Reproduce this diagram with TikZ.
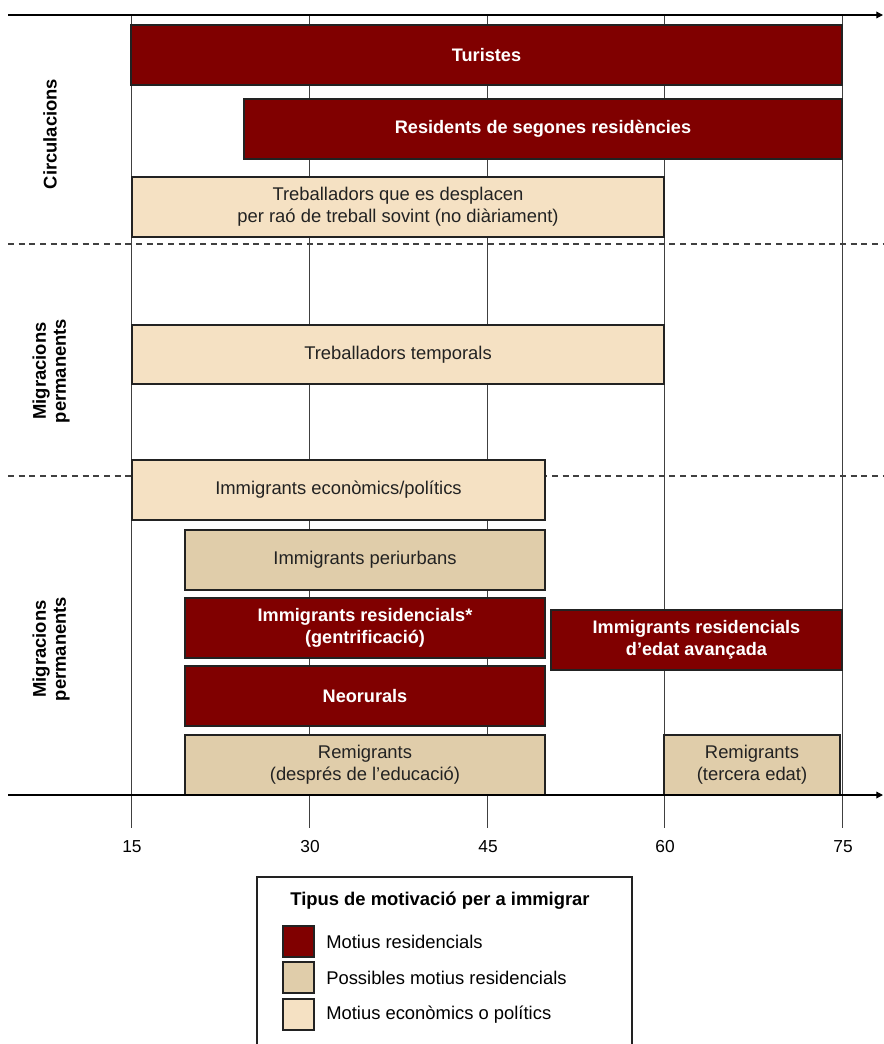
\documentclass[tikz,border=0pt]{standalone}
\usepackage{fontspec}
\setmainfont{Liberation Sans}
\usetikzlibrary{arrows.meta}
\definecolor{resred}{HTML}{800000}
\definecolor{restan}{HTML}{E0CDAA}
\definecolor{reslight}{HTML}{F5E1C3}
\definecolor{edge}{HTML}{222222}
\begin{document}
\begin{tikzpicture}[x=0.75pt,y=-0.75pt,
  bar/.style={draw=edge,line width=1.1pt,inner sep=0pt,align=center,font=\fontsize{13.8}{16.5}\selectfont},
  redbar/.style={bar,fill=resred,text=white,font=\bfseries\fontsize{13.6}{16.5}\selectfont},
  tanbar/.style={bar,fill=restan,text=edge},
  lightbar/.style={bar,fill=reslight,text=edge},
  grid/.style={draw=black!75,line width=0.6pt},
  axis/.style={draw=black,line width=0.9pt,-{Triangle[length=5pt,width=5pt]}},
  sep/.style={draw=black!75,line width=0.8pt,dash pattern=on 4.5pt off 3.5pt},
  side/.style={rotate=90,align=center,font=\bfseries\fontsize{13.8}{15}\selectfont},
  tick/.style={font=\fontsize{13}{15}\selectfont},
  leg/.style={font=\fontsize{13.8}{16}\selectfont,anchor=west,inner sep=0pt},
  sw/.style={draw=edge,line width=0.9pt,minimum size={31*0.75pt},inner sep=0pt}
]
\useasboundingbox (0,0) rectangle (883,1044);
% grid lines
\foreach \gx/\n in {131/15,309/30,487/45,664/60,842/75}{
  \draw[grid] (\gx,15) -- (\gx,828);
  \node[tick] (t\n) at (\gx+1,847) {\n};
}
% separators
\draw[sep] (8,244) -- (883,244);
\draw[sep] (8,476) -- (883,476);
% axes
\coordinate (topL) at (8,15); \coordinate (topR) at (883,15);
\coordinate (botL) at (8,795); \coordinate (botR) at (883,795);
\draw[axis] (topL) -- (topR);
% bars
\node[redbar,minimum width={711*0.75pt},minimum height={60*0.75pt}] (tur) at (486.5,55) {Turistes};
\node[redbar,minimum width={598*0.75pt},minimum height={60*0.75pt}] (res) at (543,129) {Residents de segones residències};
\node[lightbar,minimum width={532*0.75pt},minimum height={60*0.75pt}] (treb) at (398,207) {Treballadors que es desplacen\\per raó de treball sovint (no diàriament)};
\node[lightbar,minimum width={532*0.75pt},minimum height={59*0.75pt}] (temp) at (398,354.5) {Treballadors temporals};
\node[lightbar,minimum width={413*0.75pt},minimum height={60*0.75pt}] (eco) at (338.5,490) {Immigrants econòmics/polítics};
\node[tanbar,minimum width={360*0.75pt},minimum height={60*0.75pt}] (peri) at (365,560) {Immigrants periurbans};
\node[redbar,minimum width={360*0.75pt},minimum height={60*0.75pt}] (gent) at (365,628) {Immigrants residencials*\\(gentrificació)};
\node[redbar,minimum width={291*0.75pt},minimum height={60*0.75pt}] (avan) at (696.5,640) {Immigrants residencials\\d’edat avançada};
\node[redbar,minimum width={360*0.75pt},minimum height={60*0.75pt}] (neo) at (365,696) {Neorurals};
\node[tanbar,minimum width={360*0.75pt},minimum height={60*0.75pt}] (rem1) at (365,765) {Remigrants\\(després de l’educació)};
\node[tanbar,minimum width={176*0.75pt},minimum height={60*0.75pt}] (rem2) at (752,765) {Remigrants\\(tercera edat)};
% bottom axis
\draw[axis] (botL) -- (botR);
% side labels
\node[side] (circ) at (50,134) {Circulacions};
\node[side] (mig1) at (51,371) {Migracions\\permanents};
\node[side] (mig2) at (51,649) {Migracions\\permanents};
% legend
\draw[draw=edge,line width=0.9pt] (257,1050) -- (257,877) -- (632,877) -- (632,1050);
\node[font=\bfseries\fontsize{13.8}{16}\selectfont] (legt) at (440,901) {Tipus de motivació per a immigrar};
\node[sw,fill=resred] (s1) at (298.5,941.5) {};
\node[sw,fill=restan] (s2) at (298.5,977.5) {};
\node[sw,fill=reslight] (s3) at (298.5,1014.5) {};
\node[leg] (l1) at (326,941.5) {Motius residencials};
\node[leg] (l2) at (326,977.5) {Possibles motius residencials};
\node[leg] (l3) at (326,1014.5) {Motius econòmics o polítics};
\end{tikzpicture}
\end{document}
